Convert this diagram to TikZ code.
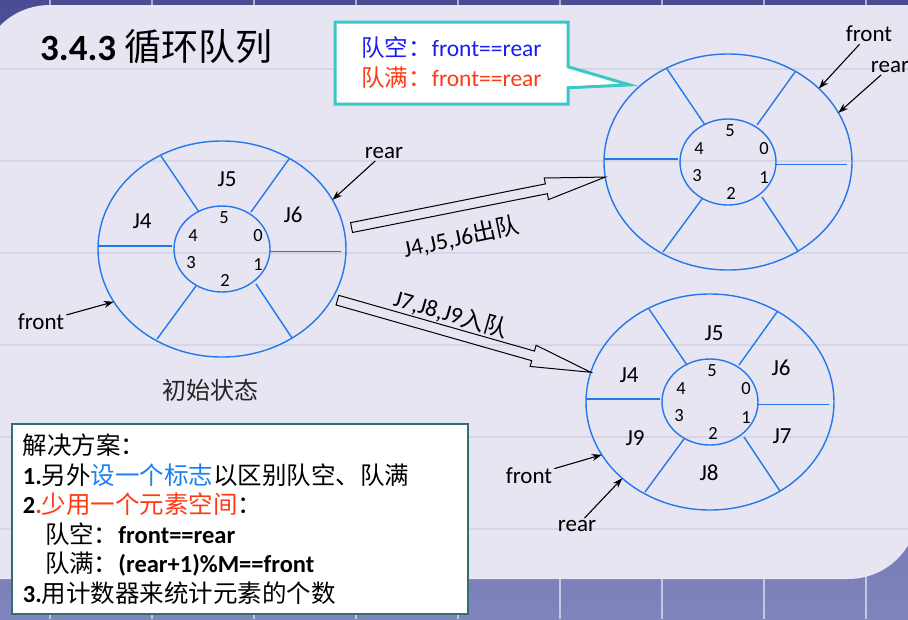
\documentclass[tikz,border=0pt]{standalone}
\usepackage{fontspec}
\setmainfont{Carlito}
\newfontfamily\zhfont{Noto Sans CJK SC}
\newcommand{\zh}[1]{{\zhfont #1}}
\usetikzlibrary{
  arrows.meta,
  positioning,
  calc,
  shapes.geometric,
  shapes.callouts
}
\definecolor{bandtop}{RGB}{74,76,148}
\definecolor{bandbot}{RGB}{128,132,188}
\definecolor{panel}{RGB}{230,229,241}
\definecolor{gridline}{RGB}{214,213,231}
\definecolor{ringblue}{RGB}{35,120,235}
\definecolor{callteal}{RGB}{58,200,198}
\definecolor{boxteal}{RGB}{50,112,112}
\definecolor{emptyblue}{RGB}{28,28,245}
\definecolor{fullred}{RGB}{255,58,20}
\definecolor{flagblue}{RGB}{30,128,240}
\tikzset{
  ringout/.style  = {ellipse, draw=ringblue, line width=1.4pt, inner sep=0pt,
                     outer sep=0pt, minimum width=248pt, minimum height=216pt},
  ringin/.style   = {ellipse, draw=ringblue, line width=1.4pt, inner sep=0pt,
                     outer sep=0pt, minimum width=96pt, minimum height=86pt},
  spoke/.style    = {draw=ringblue, line width=1.4pt},
  slot/.style     = {font=\fontsize{18.5}{20}\selectfont, inner sep=0pt},
  job/.style      = {font=\fontsize{23}{25}\selectfont, inner sep=0pt},
  tag/.style      = {font=\fontsize{23}{26}\selectfont, inner sep=2pt},
  pointer/.style  = {-{Stealth[length=10pt, width=7pt]}, line width=1.1pt},
  bigarrow/.style = {draw=black, line width=1pt, line join=miter},
  condbox/.style  = {rectangle callout, draw=callteal, line width=3pt, fill=white,
                     minimum width=233pt, minimum height=82pt, align=left,
                     callout pointer width=21pt, font=\fontsize{23.5}{30}\selectfont},
  solbox/.style   = {draw=boxteal, line width=2pt, fill=white, minimum width=456pt,
                     minimum height=190pt, text width=434pt, inner xsep=11pt,
                     inner ysep=4pt, align=left, font=\fontsize{24.5}{29.5}\selectfont},
  queue/.pic = {
    \node[ringout] (-outer) at (0,0) {};
    \node[ringin]  (-inner) at (0,0) {};
    \draw[spoke] (-124,-3) -- (-50,-3);
    \draw[spoke] (47,2.5) -- (119,2.5);
    \draw[spoke] (-61,-93) -- (-23,-37);
    \draw[spoke] (67,-90) -- (29,-37);
    \draw[spoke] (-26,37) -- (-65,90);
    \draw[spoke] (34,35) -- (70,89);
    \foreach \k/\px/\py in {5/2/-31, 4/-29/-13, 0/36/-13, 3/-31/14, 1/36/16, 2/3/31}
      \node[slot] (-s\k) at (\px,\py) {\k};
  }
}
% hollow block arrow from #1 to #2
\newcommand{\hollowarrow}[2]{%
  \coordinate (neck) at ($(#2)!60pt!(#1)$);
  \draw[bigarrow] ($(#1)!5pt!90:(#2)$) -- ($(neck)!5pt!90:(#2)$)
    -- ($(neck)!11pt!90:(#2)$) -- (#2) -- ($(neck)!11pt!-90:(#2)$)
    -- ($(neck)!5pt!-90:(#2)$) -- ($(#1)!5pt!-90:(#2)$) -- cycle;
}

\begin{document}
\begin{tikzpicture}[x=1pt, y=-1pt]
\useasboundingbox (0,0) rectangle (908,619);
\clip (0,0) rectangle (908,619);

% slide background
\shade[top color=bandtop, bottom color=bandbot] (0,0) rectangle (908,619);
\foreach \gx in {50,152,...,900}
  \draw[white, opacity=0.55, line width=1.5pt] (\gx,0) -- (\gx,619);
\fill[panel] (-20,75) .. controls (-20,36) and (11,5) .. (50,5) -- (918,5)
  -- (918,509) .. controls (918,548) and (887,579) .. (848,579) -- (-20,579) -- cycle;
\foreach \gy in {69,161,...,540}
  \draw[gridline, line width=1.2pt] (-20,\gy) -- (918,\gy);

\node[anchor=base west, inner sep=0pt, font=\fontsize{37}{42}\selectfont] (title)
  at (40,60) {\textbf{3.4.3} \zh{循环队列}};

% three states of the queue
\pic (r1) at (222,249) {queue};
\pic (r2) at (728,162) {queue};
\pic (r3) at (710,402) {queue};

\foreach \j/\dx/\dy in {J5/5/-70, J4/-80/-28, J6/71/-34}
  \node[job] at ($(r1-outer.center)+(\dx,\dy)$) {\j};
\foreach \j/\dx/\dy in {J5/4/-69, J4/-81/-27, J6/71/-34, J7/72/34, J8/-1/71, J9/-75/36}
  \node[job] at ($(r3-outer.center)+(\dx,\dy)$) {\j};

\node[tag, below=20pt of r1-outer, xshift=-12pt, font=\fontsize{24}{26}\selectfont,
  text=black!85] (init) {\zh{初始状态}};

% front / rear pointers
\node[tag] (f1) at (41,322) {front};
\node[tag] (b1) at (384,153) {rear};
\node[tag] (f2) at (869,34) {front};
\node[tag] (b2) at (890,67) {rear};
\node[tag] (f3) at (529,476) {front};
\node[tag] (b3) at (577,526) {rear};
\draw[pointer] (f1) -- (r1-outer.206);
\draw[pointer] (b1) -- (r1-outer.24);
\draw[pointer] (f2) -- (r2-outer.39);
\draw[pointer] (b2) -- (r2-outer.24);
\draw[pointer] (f3) -- (r3-outer.206);
\draw[pointer] (b3) -- (r3-outer.221);

% transitions
\coordinate (out1) at ($(r1-outer.10)+(8,0)$);
\coordinate (in1) at (r2-outer.187);
\coordinate (out2) at ($(r1-outer.336)+(5,2)$);
\coordinate (in2) at (r3-outer.166);
\hollowarrow{out1}{in1}
\hollowarrow{out2}{in2}
\node[tag, rotate=12, font=\fontsize{23.5}{26}\selectfont] (deq) at (461,237) {J4,J5,J6\zh{出队}};
\node[tag, rotate=-16, font=\fontsize{23.5}{26}\selectfont] (enq) at (451,314) {J7,J8,J9\zh{入队}};

\node[condbox, callout absolute pointer={($(r2-outer.142)+(-6,-5)$)}] (cond) at (451.5,63)
  {\textcolor{emptyblue}{\zh{队空：}front==rear}\\
   \textcolor{fullred}{\zh{队满：}front==rear}};

\node[solbox, anchor=north west] (plan) at (11,423) {%
  \zh{解决方案：}\\
  \textbf{1.}\zh{另外}\textcolor{flagblue}{\zh{设一个标志}}\zh{以区别队空、队满}\\
  \textbf{2}\textcolor{fullred}{\textbf{.}\zh{少用一个元素空间}}\zh{：}\\
  \hspace*{22pt}\zh{队空：}\textbf{front==rear}\\
  \hspace*{22pt}\zh{队满：}\textbf{(rear+1)\%M==front}\\
  \textbf{3.}\zh{用计数器来统计元素的个数}};
\end{tikzpicture}
\end{document}
